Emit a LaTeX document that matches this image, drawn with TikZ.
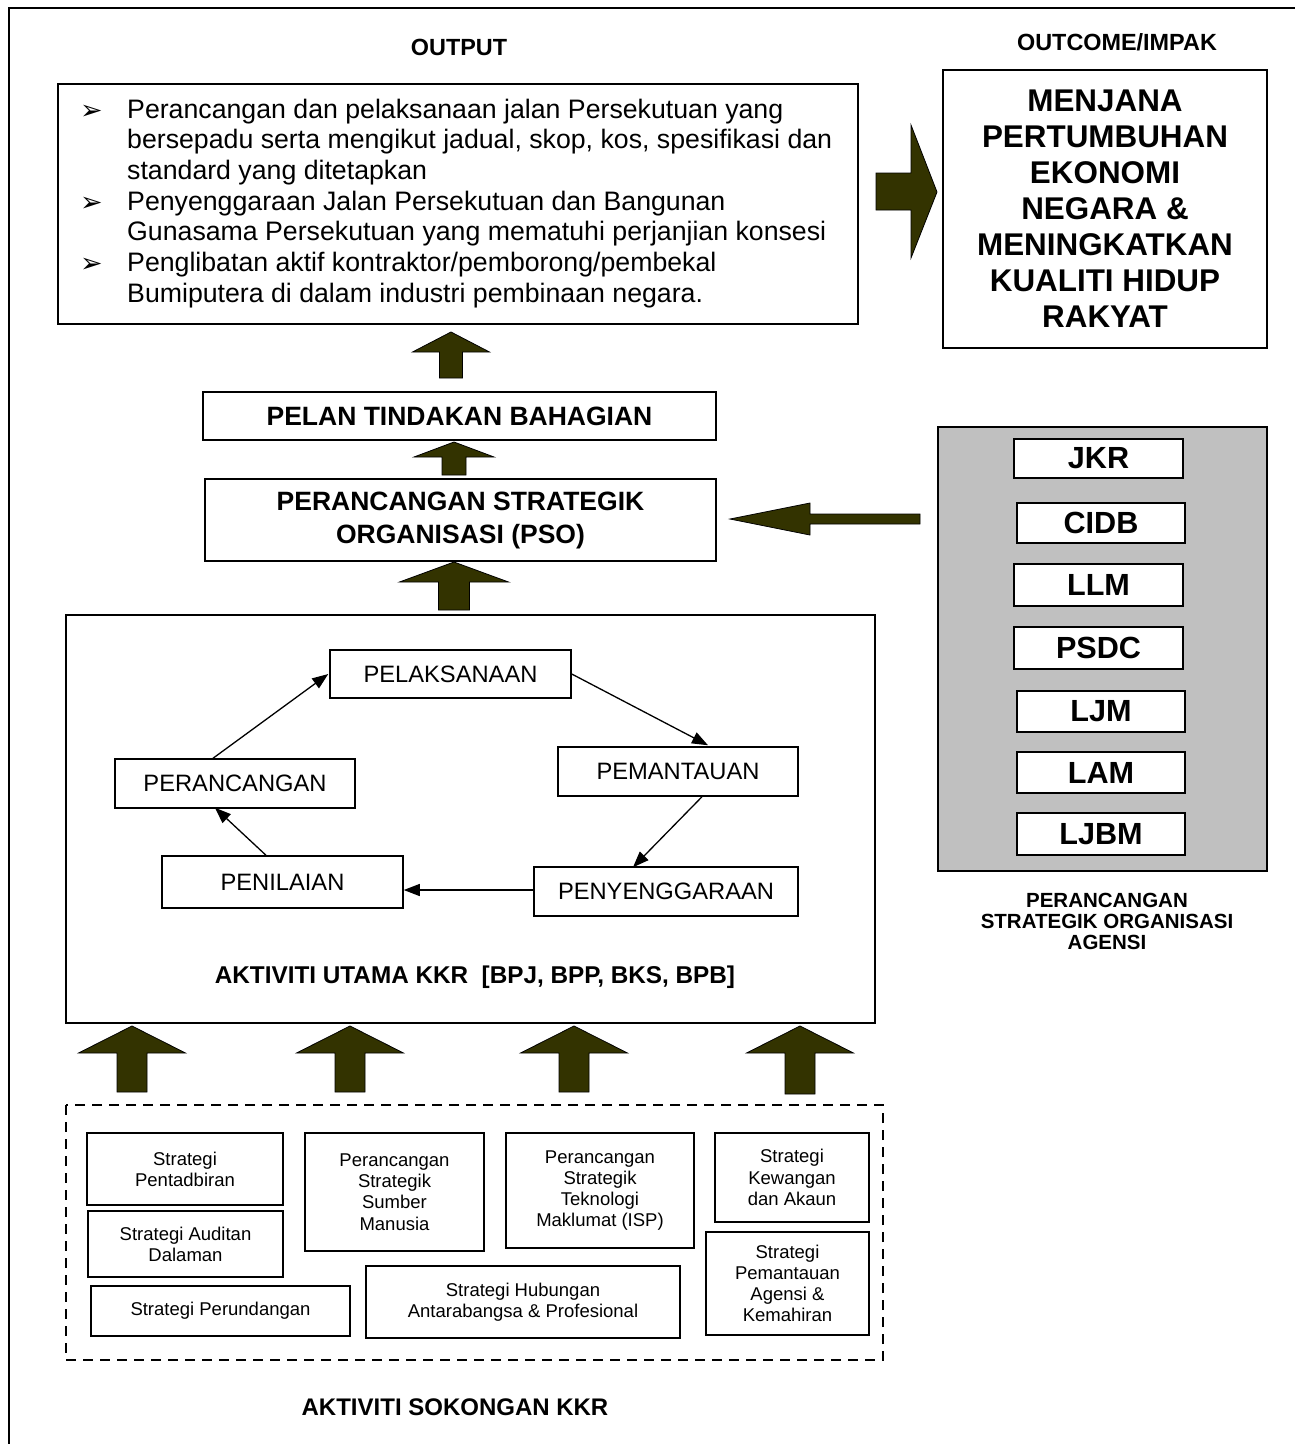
\documentclass[tikz,border=0pt]{standalone}
\usepackage{fontspec}
\setmainfont{Liberation Sans}
\newfontfamily\djv{DejaVu Sans}
\usetikzlibrary{arrows.meta}
\definecolor{olv}{RGB}{51,51,0}
\definecolor{gry}{RGB}{192,192,192}
\newcommand\fs[2]{\fontsize{#1}{#2}\selectfont}
\newcommand\blt{\raisebox{-1pt}{\djv\fontsize{27}{30.7}\selectfont ➢}}
\newcommand\upblk[6]{\filldraw[blk] (#1,#2) -- ({#1+#5},#3) -- ({#1+#6},#3) -- ({#1+#6},#4) -- ({#1-#6},#4) -- ({#1-#6},#3) -- ({#1-#5},#3) -- cycle;}
\begin{document}
\begin{tikzpicture}[x=1pt,y=-1pt,
  box/.style={draw=black, line width=1.5pt, fill=white, inner sep=0pt},
  blk/.style={fill=olv, draw=black, line width=0.8pt, line join=miter},
  cyc/.style={-{Triangle[length=16pt,width=12pt]}, line width=1.3pt},
  hdr/.style={font=\fs{23.4}{27}\bfseries, inner sep=0pt},
  big/.style={box, font=\fs{26.5}{33}\bfseries, align=center},
  cbox/.style={box, font=\fs{23.7}{27}},
  sbox/.style={box, font=\fs{18.5}{21.2}, align=center},
  abox/.style={box, font=\fs{30.6}{34}\bfseries},
  lbl/.style={inner sep=0pt, align=center}]
\useasboundingbox (0,0) rectangle (1294,1444);
\fill[white] (0,0) rectangle (1294,1444);
\draw[line width=1.5pt] (9,1450) -- (9,8) -- (1300,8);

% headers
\node[hdr] (hout) at (459,47) {OUTPUT};
\node[hdr] (hoc) at (1117,42) {OUTCOME/IMPAK};

% output box
\node[box, minimum width=800, minimum height=240] (out) at (458,204) {};
\node[inner sep=0pt, anchor=west, font=\fs{26.7}{30.7}] (outtxt) at (80,204) {%
\begin{tabular}{@{}p{47pt}@{}l@{}}
\blt & Perancangan dan pelaksanaan jalan Persekutuan yang\\
 & bersepadu serta mengikut jadual, skop, kos, spesifikasi dan\\
 & standard yang ditetapkan\\
\blt & Penyenggaraan Jalan Persekutuan dan Bangunan\\
 & Gunasama Persekutuan yang mematuhi perjanjian konsesi\\
\blt & Penglibatan aktif kontraktor/pemborong/pembekal\\
 & Bumiputera di dalam industri pembinaan negara.
\end{tabular}};

% outcome box
\node[box, minimum width=324, minimum height=278, align=center, font=\fs{31.4}{36}\bfseries] (oc) at (1105,209)
 {MENJANA\\PERTUMBUHAN\\EKONOMI\\NEGARA \&\\MENINGKATKAN\\KUALITI HIDUP\\RAKYAT};

% right block arrow
\filldraw[blk] (876,173) -- (911,173) -- (911,125) -- (937,192) -- (911,258) -- (911,210) -- (876,210) -- cycle;

% pelan / pso
\node[big, minimum width=513, minimum height=48] (pelan) at (459.5,416) {PELAN TINDAKAN BAHAGIAN};
\node[big, minimum width=511, minimum height=82] (pso) at (460.5,520) {PERANCANGAN STRATEGIK\\ORGANISASI (PSO)};

\upblk{451}{332}{352}{378}{38.5}{11.5}
\upblk{454}{442}{457}{475}{40}{12}
\upblk{454}{562}{582}{610}{54.5}{15.5}

% left block arrow
\filldraw[blk] (730,519) -- (810,503) -- (810,514) -- (920,514) -- (920,524) -- (810,524) -- (810,535) -- cycle;

% aktiviti utama
\node[box, minimum width=809, minimum height=408] (akt) at (470.5,819) {};
\node[cbox, minimum width=241, minimum height=48] (pel) at (450.5,674) {PELAKSANAAN};
\node[cbox, minimum width=240, minimum height=49] (pem) at (678,771.5) {PEMANTAUAN};
\node[cbox, minimum width=240, minimum height=49] (per) at (235,783.5) {PERANCANGAN};
\node[cbox, minimum width=241, minimum height=52] (pen) at (282.5,882) {PENILAIAN};
\node[cbox, minimum width=264, minimum height=49] (peny) at (666,891.5) {PENYENGGARAAN};
\draw[cyc] ([xshift=-22pt]per.north) -- ([xshift=-1pt]pel.west);
\draw[cyc] (pel.east) -- ([xshift=30pt,yshift=1pt]pem.north);
\draw[cyc] ([xshift=24pt]pem.south) -- ([xshift=-33pt,yshift=-1pt]peny.north);
\draw[cyc] ([yshift=1.5pt]peny.west) -- ([yshift=1.5pt]peny.west -| pen.east);
\node[lbl, font=\fs{24.3}{28}\bfseries] (aktl) at (475,977) {AKTIVITI UTAMA KKR\ \ [BPJ, BPP, BKS, BPB]};
\draw[cyc] ([xshift=-16.5pt]pen.north) -- ([xshift=-20pt,yshift=1pt]per.south);

% bottom block arrows
\upblk{132}{1026}{1053}{1092}{53.5}{15}
\upblk{350}{1026}{1053}{1092}{53.5}{15}
\upblk{574}{1026}{1053}{1092}{53.5}{15}
\upblk{800}{1026}{1053}{1094}{53.5}{15}

% support activities
\draw[line width=2pt, dash pattern=on 10pt off 7pt] (66,1105) rectangle (883,1360);
\node[sbox, minimum width=196, minimum height=72] (s1) at (185,1169) {Strategi\\Pentadbiran};
\node[sbox, minimum width=195, minimum height=66] (s2) at (185.5,1244) {Strategi Auditan\\Dalaman};
\node[sbox, minimum width=259, minimum height=50] (s3) at (220.5,1311) {Strategi Perundangan};
\node[sbox, minimum width=179, minimum height=118] (s4) at (394.5,1192) {Perancangan\\Strategik\\Sumber\\Manusia};
\node[sbox, minimum width=188, minimum height=115] (s5) at (600,1190.5) {Perancangan\\Strategik\\Teknologi\\Maklumat (ISP)};
\node[sbox, minimum width=154, minimum height=89] (s6) at (792,1177.5) {Strategi\\Kewangan\\dan Akaun};
\node[sbox, minimum width=314, minimum height=72] (s7) at (523,1302) {Strategi Hubungan\\Antarabangsa \& Profesional};
\node[sbox, minimum width=163, minimum height=103] (s8) at (787.5,1283.5) {Strategi\\Pemantauan\\Agensi \&\\Kemahiran};
\node[lbl, font=\fs{24}{28}\bfseries] (sok) at (455,1407) {AKTIVITI SOKONGAN KKR};

% agencies
\node[draw=black, line width=1.5pt, fill=gry, minimum width=329, minimum height=444, inner sep=0pt] (ag) at (1102.5,649) {};
\node[abox, minimum width=169, minimum height=39] (jkr) at (1098.5,458.5) {JKR};
\node[abox, minimum width=168, minimum height=40] (cidb) at (1101,523) {CIDB};
\node[abox, minimum width=169, minimum height=42] (llm) at (1098.5,585) {LLM};
\node[abox, minimum width=169, minimum height=42] (psdc) at (1098.5,648) {PSDC};
\node[abox, minimum width=168, minimum height=41] (ljm) at (1101,711.5) {LJM};
\node[abox, minimum width=168, minimum height=41] (lam) at (1101,772.5) {LAM};
\node[abox, minimum width=168, minimum height=42] (ljbm) at (1101,834) {LJBM};
\node[lbl, font=\fs{20.5}{21}\bfseries] (agl) at (1107,921) {PERANCANGAN\\STRATEGIK ORGANISASI\\AGENSI};
\end{tikzpicture}
\end{document}
